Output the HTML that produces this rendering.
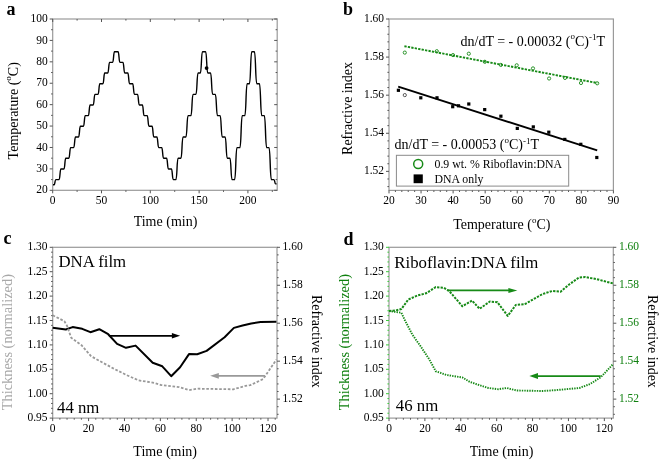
<!DOCTYPE html>
<html><head><meta charset="utf-8"><style>
html,body{margin:0;padding:0;background:#fff;}
svg{display:block;will-change:transform;}
text{font-family:"Liberation Serif", serif;}
</style></head><body>
<svg width="660" height="460" viewBox="0 0 660 460">
<rect width="660" height="460" fill="#fff"/>
<rect x="52.7" y="19" width="224.5" height="171.3" fill="none" stroke="#9a9a9a" stroke-width="1.2"/>
<line x1="49.7" y1="190.3" x2="52.7" y2="190.3" stroke="#555" stroke-width="1" />
<line x1="274.2" y1="190.3" x2="277.2" y2="190.3" stroke="#555" stroke-width="1" />
<text transform="translate(47.8,193.4) scale(0.87,1)" font-size="13.2" text-anchor="end" fill="#000">20</text>
<line x1="51.1" y1="179.59" x2="52.7" y2="179.59" stroke="#555" stroke-width="1" />
<line x1="275.6" y1="179.59" x2="277.2" y2="179.59" stroke="#555" stroke-width="1" />
<line x1="49.7" y1="168.89" x2="52.7" y2="168.89" stroke="#555" stroke-width="1" />
<line x1="274.2" y1="168.89" x2="277.2" y2="168.89" stroke="#555" stroke-width="1" />
<text transform="translate(47.8,171.99) scale(0.87,1)" font-size="13.2" text-anchor="end" fill="#000">30</text>
<line x1="51.1" y1="158.18" x2="52.7" y2="158.18" stroke="#555" stroke-width="1" />
<line x1="275.6" y1="158.18" x2="277.2" y2="158.18" stroke="#555" stroke-width="1" />
<line x1="49.7" y1="147.48" x2="52.7" y2="147.48" stroke="#555" stroke-width="1" />
<line x1="274.2" y1="147.48" x2="277.2" y2="147.48" stroke="#555" stroke-width="1" />
<text transform="translate(47.8,150.58) scale(0.87,1)" font-size="13.2" text-anchor="end" fill="#000">40</text>
<line x1="51.1" y1="136.77" x2="52.7" y2="136.77" stroke="#555" stroke-width="1" />
<line x1="275.6" y1="136.77" x2="277.2" y2="136.77" stroke="#555" stroke-width="1" />
<line x1="49.7" y1="126.06" x2="52.7" y2="126.06" stroke="#555" stroke-width="1" />
<line x1="274.2" y1="126.06" x2="277.2" y2="126.06" stroke="#555" stroke-width="1" />
<text transform="translate(47.8,129.16) scale(0.87,1)" font-size="13.2" text-anchor="end" fill="#000">50</text>
<line x1="51.1" y1="115.36" x2="52.7" y2="115.36" stroke="#555" stroke-width="1" />
<line x1="275.6" y1="115.36" x2="277.2" y2="115.36" stroke="#555" stroke-width="1" />
<line x1="49.7" y1="104.65" x2="52.7" y2="104.65" stroke="#555" stroke-width="1" />
<line x1="274.2" y1="104.65" x2="277.2" y2="104.65" stroke="#555" stroke-width="1" />
<text transform="translate(47.8,107.75) scale(0.87,1)" font-size="13.2" text-anchor="end" fill="#000">60</text>
<line x1="51.1" y1="93.94" x2="52.7" y2="93.94" stroke="#555" stroke-width="1" />
<line x1="275.6" y1="93.94" x2="277.2" y2="93.94" stroke="#555" stroke-width="1" />
<line x1="49.7" y1="83.24" x2="52.7" y2="83.24" stroke="#555" stroke-width="1" />
<line x1="274.2" y1="83.24" x2="277.2" y2="83.24" stroke="#555" stroke-width="1" />
<text transform="translate(47.8,86.34) scale(0.87,1)" font-size="13.2" text-anchor="end" fill="#000">70</text>
<line x1="51.1" y1="72.53" x2="52.7" y2="72.53" stroke="#555" stroke-width="1" />
<line x1="275.6" y1="72.53" x2="277.2" y2="72.53" stroke="#555" stroke-width="1" />
<line x1="49.7" y1="61.83" x2="52.7" y2="61.83" stroke="#555" stroke-width="1" />
<line x1="274.2" y1="61.83" x2="277.2" y2="61.83" stroke="#555" stroke-width="1" />
<text transform="translate(47.8,64.93) scale(0.87,1)" font-size="13.2" text-anchor="end" fill="#000">80</text>
<line x1="51.1" y1="51.12" x2="52.7" y2="51.12" stroke="#555" stroke-width="1" />
<line x1="275.6" y1="51.12" x2="277.2" y2="51.12" stroke="#555" stroke-width="1" />
<line x1="49.7" y1="40.41" x2="52.7" y2="40.41" stroke="#555" stroke-width="1" />
<line x1="274.2" y1="40.41" x2="277.2" y2="40.41" stroke="#555" stroke-width="1" />
<text transform="translate(47.8,43.51) scale(0.87,1)" font-size="13.2" text-anchor="end" fill="#000">90</text>
<line x1="51.1" y1="29.71" x2="52.7" y2="29.71" stroke="#555" stroke-width="1" />
<line x1="275.6" y1="29.71" x2="277.2" y2="29.71" stroke="#555" stroke-width="1" />
<line x1="49.7" y1="19" x2="52.7" y2="19" stroke="#555" stroke-width="1" />
<line x1="274.2" y1="19" x2="277.2" y2="19" stroke="#555" stroke-width="1" />
<text transform="translate(47.8,22.1) scale(0.87,1)" font-size="13.2" text-anchor="end" fill="#000">100</text>
<line x1="52.7" y1="190.3" x2="52.7" y2="193.3" stroke="#555" stroke-width="1" />
<line x1="52.7" y1="19" x2="52.7" y2="22" stroke="#555" stroke-width="1" />
<text transform="translate(52.7,204.4) scale(0.87,1)" font-size="13.2" text-anchor="middle" fill="#000">0</text>
<line x1="77.1" y1="190.3" x2="77.1" y2="191.9" stroke="#555" stroke-width="1" />
<line x1="77.1" y1="19" x2="77.1" y2="20.6" stroke="#555" stroke-width="1" />
<line x1="101.5" y1="190.3" x2="101.5" y2="193.3" stroke="#555" stroke-width="1" />
<line x1="101.5" y1="19" x2="101.5" y2="22" stroke="#555" stroke-width="1" />
<text transform="translate(101.5,204.4) scale(0.87,1)" font-size="13.2" text-anchor="middle" fill="#000">50</text>
<line x1="125.91" y1="190.3" x2="125.91" y2="191.9" stroke="#555" stroke-width="1" />
<line x1="125.91" y1="19" x2="125.91" y2="20.6" stroke="#555" stroke-width="1" />
<line x1="150.31" y1="190.3" x2="150.31" y2="193.3" stroke="#555" stroke-width="1" />
<line x1="150.31" y1="19" x2="150.31" y2="22" stroke="#555" stroke-width="1" />
<text transform="translate(150.31,204.4) scale(0.87,1)" font-size="13.2" text-anchor="middle" fill="#000">100</text>
<line x1="174.71" y1="190.3" x2="174.71" y2="191.9" stroke="#555" stroke-width="1" />
<line x1="174.71" y1="19" x2="174.71" y2="20.6" stroke="#555" stroke-width="1" />
<line x1="199.11" y1="190.3" x2="199.11" y2="193.3" stroke="#555" stroke-width="1" />
<line x1="199.11" y1="19" x2="199.11" y2="22" stroke="#555" stroke-width="1" />
<text transform="translate(199.11,204.4) scale(0.87,1)" font-size="13.2" text-anchor="middle" fill="#000">150</text>
<line x1="223.52" y1="190.3" x2="223.52" y2="191.9" stroke="#555" stroke-width="1" />
<line x1="223.52" y1="19" x2="223.52" y2="20.6" stroke="#555" stroke-width="1" />
<line x1="247.92" y1="190.3" x2="247.92" y2="193.3" stroke="#555" stroke-width="1" />
<line x1="247.92" y1="19" x2="247.92" y2="22" stroke="#555" stroke-width="1" />
<text transform="translate(247.92,204.4) scale(0.87,1)" font-size="13.2" text-anchor="middle" fill="#000">200</text>
<line x1="272.32" y1="190.3" x2="272.32" y2="191.9" stroke="#555" stroke-width="1" />
<line x1="272.32" y1="19" x2="272.32" y2="20.6" stroke="#555" stroke-width="1" />
<text x="165.5" y="226" font-size="14" text-anchor="middle" fill="#000" >Time (min)</text>
<text transform="translate(17.6,110.8) rotate(-90)" font-size="14" text-anchor="middle">Temperature (<tspan font-size="9" dy="-6.5">o</tspan><tspan dy="6.5">C)</tspan></text>
<text x="6.5" y="14.5" font-size="18" font-weight="bold">a</text>
<path d="M53,184.73 L54.2,184.73 C55,184.73 54.8,179.59 56,179.59 L59.08,179.59 C60.09,179.59 59.91,168.94 60.92,168.94 L63.95,168.94 C64.96,168.94 64.78,158.28 65.8,158.28 L68.81,158.28 C69.83,158.28 69.65,147.63 70.66,147.63 L73.69,147.63 C74.7,147.63 74.52,136.97 75.53,136.97 L78.56,136.97 C79.57,136.97 79.39,126.31 80.41,126.31 L83.42,126.31 C84.44,126.31 84.26,115.66 85.27,115.66 L88.3,115.66 C89.31,115.66 89.13,105 90.14,105 L93.17,105 C94.18,105 94,94.34 95.02,94.34 L98.04,94.34 C99.05,94.34 98.87,83.69 99.89,83.69 L102.91,83.69 C103.92,83.69 103.74,73.03 104.75,73.03 L107.78,73.03 C108.79,73.03 108.61,62.38 109.62,62.38 L112.64,62.38 C113.66,62.38 113.48,51.72 114.49,51.72 L118.08,51.72 C119.09,51.72 118.91,62.38 119.92,62.38 L122.92,62.38 C123.94,62.38 123.76,73.03 124.77,73.03 L127.77,73.03 C128.79,73.03 128.61,83.69 129.62,83.69 L132.62,83.69 C133.64,83.69 133.46,94.34 134.48,94.34 L137.47,94.34 C138.49,94.34 138.31,105 139.33,105 L142.32,105 C143.34,105 143.16,115.66 144.18,115.66 L147.17,115.66 C148.19,115.66 148.01,126.31 149.03,126.31 L152.02,126.31 C153.04,126.31 152.86,136.97 153.88,136.97 L156.88,136.97 C157.89,136.97 157.71,147.63 158.73,147.63 L161.72,147.63 C162.74,147.63 162.56,158.28 163.58,158.28 L166.57,158.28 C167.59,158.28 167.41,168.94 168.43,168.94 L171.42,168.94 C172.44,168.94 172.26,179.59 173.28,179.59 L175.95,179.59 C177.1,179.59 176.9,158.28 178.05,158.28 L180.95,158.28 C182.1,158.28 181.9,136.97 183.05,136.97 L185.95,136.97 C187.1,136.97 186.9,115.66 188.05,115.66 L190.95,115.66 C192.1,115.66 191.9,94.34 193.05,94.34 L195.95,94.34 C197.1,94.34 196.9,73.03 198.05,73.03 L200.35,73.03 C201.5,73.03 201.3,51.72 202.45,51.72 L205.65,51.72 C206.8,51.72 206.59,73.03 207.75,73.03 L210.55,73.03 C211.7,73.03 211.5,94.34 212.65,94.34 L215.35,94.34 C216.5,94.34 216.3,115.66 217.45,115.66 L220.15,115.66 C221.3,115.66 221.09,136.97 222.25,136.97 L225.15,136.97 C226.3,136.97 226.09,158.28 227.25,158.28 L229.95,158.28 C231.1,158.28 230.9,179.59 232.05,179.59 L234.62,179.59 C235.92,179.59 235.68,147.63 236.98,147.63 L239.92,147.63 C241.22,147.63 240.98,115.66 242.28,115.66 L244.82,115.66 C246.12,115.66 245.88,83.69 247.18,83.69 L249.42,83.69 C250.72,83.69 250.48,51.72 251.78,51.72 L254.42,51.72 C255.72,51.72 255.48,83.69 256.77,83.69 L259.43,83.69 C260.72,83.69 260.48,115.66 261.78,115.66 L264.32,115.66 C265.62,115.66 265.38,147.63 266.68,147.63 L269.02,147.63 C270.32,147.63 270.08,179.59 271.38,179.59 L273.9,179.59 C274.9,179.59 274.6,183.88 275.6,183.88 L276.6,183.88" fill="none" stroke="#000" stroke-width="1.4" stroke-linejoin="round"/>
<circle cx="206.6" cy="68.1" r="1.9" fill="#000"/>
<rect x="389" y="19" width="224.4" height="171.4" fill="none" stroke="#9a9a9a" stroke-width="1.2"/>
<line x1="386" y1="19" x2="389" y2="19" stroke="#555" stroke-width="1" />
<text transform="translate(384,22.1) scale(0.87,1)" font-size="13.2" text-anchor="end" fill="#000">1.60</text>
<line x1="387.4" y1="26.62" x2="389" y2="26.62" stroke="#555" stroke-width="1" />
<line x1="387.4" y1="34.24" x2="389" y2="34.24" stroke="#555" stroke-width="1" />
<line x1="387.4" y1="41.85" x2="389" y2="41.85" stroke="#555" stroke-width="1" />
<line x1="387.4" y1="49.47" x2="389" y2="49.47" stroke="#555" stroke-width="1" />
<line x1="386" y1="57.09" x2="389" y2="57.09" stroke="#555" stroke-width="1" />
<text transform="translate(384,60.19) scale(0.87,1)" font-size="13.2" text-anchor="end" fill="#000">1.58</text>
<line x1="387.4" y1="64.71" x2="389" y2="64.71" stroke="#555" stroke-width="1" />
<line x1="387.4" y1="72.32" x2="389" y2="72.32" stroke="#555" stroke-width="1" />
<line x1="387.4" y1="79.94" x2="389" y2="79.94" stroke="#555" stroke-width="1" />
<line x1="387.4" y1="87.56" x2="389" y2="87.56" stroke="#555" stroke-width="1" />
<line x1="386" y1="95.18" x2="389" y2="95.18" stroke="#555" stroke-width="1" />
<text transform="translate(384,98.28) scale(0.87,1)" font-size="13.2" text-anchor="end" fill="#000">1.56</text>
<line x1="387.4" y1="102.8" x2="389" y2="102.8" stroke="#555" stroke-width="1" />
<line x1="387.4" y1="110.41" x2="389" y2="110.41" stroke="#555" stroke-width="1" />
<line x1="387.4" y1="118.03" x2="389" y2="118.03" stroke="#555" stroke-width="1" />
<line x1="387.4" y1="125.65" x2="389" y2="125.65" stroke="#555" stroke-width="1" />
<line x1="386" y1="133.27" x2="389" y2="133.27" stroke="#555" stroke-width="1" />
<text transform="translate(384,136.37) scale(0.87,1)" font-size="13.2" text-anchor="end" fill="#000">1.54</text>
<line x1="387.4" y1="140.88" x2="389" y2="140.88" stroke="#555" stroke-width="1" />
<line x1="387.4" y1="148.5" x2="389" y2="148.5" stroke="#555" stroke-width="1" />
<line x1="387.4" y1="156.12" x2="389" y2="156.12" stroke="#555" stroke-width="1" />
<line x1="387.4" y1="163.74" x2="389" y2="163.74" stroke="#555" stroke-width="1" />
<line x1="386" y1="171.36" x2="389" y2="171.36" stroke="#555" stroke-width="1" />
<text transform="translate(384,174.46) scale(0.87,1)" font-size="13.2" text-anchor="end" fill="#000">1.52</text>
<line x1="387.4" y1="178.97" x2="389" y2="178.97" stroke="#555" stroke-width="1" />
<line x1="387.4" y1="186.59" x2="389" y2="186.59" stroke="#555" stroke-width="1" />
<line x1="389" y1="190.4" x2="389" y2="193.4" stroke="#555" stroke-width="1" />
<text transform="translate(389,204.4) scale(0.87,1)" font-size="13.2" text-anchor="middle" fill="#000">20</text>
<line x1="395.41" y1="190.4" x2="395.41" y2="192" stroke="#555" stroke-width="1" />
<line x1="401.82" y1="190.4" x2="401.82" y2="192" stroke="#555" stroke-width="1" />
<line x1="408.23" y1="190.4" x2="408.23" y2="192" stroke="#555" stroke-width="1" />
<line x1="414.65" y1="190.4" x2="414.65" y2="192" stroke="#555" stroke-width="1" />
<line x1="421.06" y1="190.4" x2="421.06" y2="193.4" stroke="#555" stroke-width="1" />
<text transform="translate(421.06,204.4) scale(0.87,1)" font-size="13.2" text-anchor="middle" fill="#000">30</text>
<line x1="427.47" y1="190.4" x2="427.47" y2="192" stroke="#555" stroke-width="1" />
<line x1="433.88" y1="190.4" x2="433.88" y2="192" stroke="#555" stroke-width="1" />
<line x1="440.29" y1="190.4" x2="440.29" y2="192" stroke="#555" stroke-width="1" />
<line x1="446.7" y1="190.4" x2="446.7" y2="192" stroke="#555" stroke-width="1" />
<line x1="453.11" y1="190.4" x2="453.11" y2="193.4" stroke="#555" stroke-width="1" />
<text transform="translate(453.11,204.4) scale(0.87,1)" font-size="13.2" text-anchor="middle" fill="#000">40</text>
<line x1="459.53" y1="190.4" x2="459.53" y2="192" stroke="#555" stroke-width="1" />
<line x1="465.94" y1="190.4" x2="465.94" y2="192" stroke="#555" stroke-width="1" />
<line x1="472.35" y1="190.4" x2="472.35" y2="192" stroke="#555" stroke-width="1" />
<line x1="478.76" y1="190.4" x2="478.76" y2="192" stroke="#555" stroke-width="1" />
<line x1="485.17" y1="190.4" x2="485.17" y2="193.4" stroke="#555" stroke-width="1" />
<text transform="translate(485.17,204.4) scale(0.87,1)" font-size="13.2" text-anchor="middle" fill="#000">50</text>
<line x1="491.58" y1="190.4" x2="491.58" y2="192" stroke="#555" stroke-width="1" />
<line x1="497.99" y1="190.4" x2="497.99" y2="192" stroke="#555" stroke-width="1" />
<line x1="504.41" y1="190.4" x2="504.41" y2="192" stroke="#555" stroke-width="1" />
<line x1="510.82" y1="190.4" x2="510.82" y2="192" stroke="#555" stroke-width="1" />
<line x1="517.23" y1="190.4" x2="517.23" y2="193.4" stroke="#555" stroke-width="1" />
<text transform="translate(517.23,204.4) scale(0.87,1)" font-size="13.2" text-anchor="middle" fill="#000">60</text>
<line x1="523.64" y1="190.4" x2="523.64" y2="192" stroke="#555" stroke-width="1" />
<line x1="530.05" y1="190.4" x2="530.05" y2="192" stroke="#555" stroke-width="1" />
<line x1="536.46" y1="190.4" x2="536.46" y2="192" stroke="#555" stroke-width="1" />
<line x1="542.87" y1="190.4" x2="542.87" y2="192" stroke="#555" stroke-width="1" />
<line x1="549.29" y1="190.4" x2="549.29" y2="193.4" stroke="#555" stroke-width="1" />
<text transform="translate(549.29,204.4) scale(0.87,1)" font-size="13.2" text-anchor="middle" fill="#000">70</text>
<line x1="555.7" y1="190.4" x2="555.7" y2="192" stroke="#555" stroke-width="1" />
<line x1="562.11" y1="190.4" x2="562.11" y2="192" stroke="#555" stroke-width="1" />
<line x1="568.52" y1="190.4" x2="568.52" y2="192" stroke="#555" stroke-width="1" />
<line x1="574.93" y1="190.4" x2="574.93" y2="192" stroke="#555" stroke-width="1" />
<line x1="581.34" y1="190.4" x2="581.34" y2="193.4" stroke="#555" stroke-width="1" />
<text transform="translate(581.34,204.4) scale(0.87,1)" font-size="13.2" text-anchor="middle" fill="#000">80</text>
<line x1="587.75" y1="190.4" x2="587.75" y2="192" stroke="#555" stroke-width="1" />
<line x1="594.17" y1="190.4" x2="594.17" y2="192" stroke="#555" stroke-width="1" />
<line x1="600.58" y1="190.4" x2="600.58" y2="192" stroke="#555" stroke-width="1" />
<line x1="606.99" y1="190.4" x2="606.99" y2="192" stroke="#555" stroke-width="1" />
<line x1="613.4" y1="190.4" x2="613.4" y2="193.4" stroke="#555" stroke-width="1" />
<text transform="translate(613.4,204.4) scale(0.87,1)" font-size="13.2" text-anchor="middle" fill="#000">90</text>
<text x="501.8" y="229.3" font-size="14" text-anchor="middle">Temperature (<tspan font-size="9" dy="-6.5">o</tspan><tspan dy="6.5">C)</tspan></text>
<text transform="translate(352,108.5) rotate(-90)" font-size="14" text-anchor="middle">Refractive index</text>
<text x="343" y="14.5" font-size="18" font-weight="bold">b</text>
<line x1="404.4" y1="46.2" x2="597.2" y2="83.0" stroke="#178a17" stroke-width="1.9" stroke-dasharray="2.3,1.2"/>
<line x1="398.2" y1="86.6" x2="597.2" y2="150.3" stroke="#000" stroke-width="1.9" />
<circle cx="404.8" cy="52.6" r="1.6" fill="none" stroke="#178a17" stroke-width="0.9"/>
<circle cx="436.8" cy="51.2" r="1.6" fill="none" stroke="#178a17" stroke-width="0.9"/>
<circle cx="453" cy="55.1" r="1.6" fill="none" stroke="#178a17" stroke-width="0.9"/>
<circle cx="468.8" cy="53.7" r="1.6" fill="none" stroke="#178a17" stroke-width="0.9"/>
<circle cx="484.8" cy="61.8" r="1.6" fill="none" stroke="#178a17" stroke-width="0.9"/>
<circle cx="500.8" cy="64.9" r="1.6" fill="none" stroke="#178a17" stroke-width="0.9"/>
<circle cx="516.7" cy="65.3" r="1.6" fill="none" stroke="#178a17" stroke-width="0.9"/>
<circle cx="533" cy="68.4" r="1.6" fill="none" stroke="#178a17" stroke-width="0.9"/>
<circle cx="549.1" cy="78.5" r="1.6" fill="none" stroke="#178a17" stroke-width="0.9"/>
<circle cx="565" cy="77.9" r="1.6" fill="none" stroke="#178a17" stroke-width="0.9"/>
<circle cx="581" cy="83" r="1.6" fill="none" stroke="#178a17" stroke-width="0.9"/>
<circle cx="597.2" cy="83.3" r="1.6" fill="none" stroke="#178a17" stroke-width="0.9"/>
<circle cx="404.8" cy="95.1" r="1.6" fill="none" stroke="#333" stroke-width="0.8"/>
<rect x="396.8" y="88.7" width="3.2" height="3.2" fill="#000"/>
<rect x="419.2" y="96.2" width="3.2" height="3.2" fill="#000"/>
<rect x="435.4" y="96.2" width="3.2" height="3.2" fill="#000"/>
<rect x="451.1" y="105.1" width="3.2" height="3.2" fill="#000"/>
<rect x="456.9" y="104.2" width="3.2" height="3.2" fill="#000"/>
<rect x="467.2" y="102.4" width="3.2" height="3.2" fill="#000"/>
<rect x="483.1" y="108" width="3.2" height="3.2" fill="#000"/>
<rect x="499.3" y="114.6" width="3.2" height="3.2" fill="#000"/>
<rect x="515.7" y="126.8" width="3.2" height="3.2" fill="#000"/>
<rect x="531.7" y="125.3" width="3.2" height="3.2" fill="#000"/>
<rect x="547.2" y="130.6" width="3.2" height="3.2" fill="#000"/>
<rect x="563.2" y="137.8" width="3.2" height="3.2" fill="#000"/>
<rect x="579.2" y="142.7" width="3.2" height="3.2" fill="#000"/>
<rect x="595.2" y="155.9" width="3.2" height="3.2" fill="#000"/>
<text x="460.5" y="45.6" font-size="14">dn/dT = - 0.00032 (<tspan font-size="9" dy="-6.5">o</tspan><tspan dy="6.5">C)</tspan><tspan font-size="9" dy="-5.5">-1</tspan><tspan dy="5.5">T</tspan></text>
<text x="394.5" y="149.4" font-size="14">dn/dT = - 0.00053 (<tspan font-size="9" dy="-6.5">o</tspan><tspan dy="6.5">C)</tspan><tspan font-size="9" dy="-5.5">-1</tspan><tspan dy="5.5">T</tspan></text>
<rect x="396.4" y="155.3" width="172.3" height="30.8" fill="#fff" stroke="#8a8a8a" stroke-width="1"/>
<circle cx="418.2" cy="164" r="4.5" fill="none" stroke="#178a17" stroke-width="1.5"/>
<rect x="413.6" y="174.4" width="9.2" height="8.8" fill="#000"/>
<text x="434.5" y="168" font-size="11.8" text-anchor="start" fill="#000" >0.9 wt. % Riboflavin:DNA</text>
<text x="434.5" y="182.7" font-size="11.8" text-anchor="start" fill="#000" >DNA only</text>
<rect x="52.7" y="247.3" width="224.3" height="170.8" fill="none" stroke="#9a9a9a" stroke-width="1.2"/>
<line x1="49.7" y1="418.1" x2="52.7" y2="418.1" stroke="#555" stroke-width="1" />
<text transform="translate(47.5,421.2) scale(0.87,1)" font-size="13.2" text-anchor="end" fill="#000">0.95</text>
<line x1="51.1" y1="413.22" x2="52.7" y2="413.22" stroke="#555" stroke-width="1" />
<line x1="51.1" y1="408.34" x2="52.7" y2="408.34" stroke="#555" stroke-width="1" />
<line x1="51.1" y1="403.46" x2="52.7" y2="403.46" stroke="#555" stroke-width="1" />
<line x1="51.1" y1="398.58" x2="52.7" y2="398.58" stroke="#555" stroke-width="1" />
<line x1="49.7" y1="393.7" x2="52.7" y2="393.7" stroke="#555" stroke-width="1" />
<text transform="translate(47.5,396.8) scale(0.87,1)" font-size="13.2" text-anchor="end" fill="#000">1.00</text>
<line x1="51.1" y1="388.82" x2="52.7" y2="388.82" stroke="#555" stroke-width="1" />
<line x1="51.1" y1="383.94" x2="52.7" y2="383.94" stroke="#555" stroke-width="1" />
<line x1="51.1" y1="379.06" x2="52.7" y2="379.06" stroke="#555" stroke-width="1" />
<line x1="51.1" y1="374.18" x2="52.7" y2="374.18" stroke="#555" stroke-width="1" />
<line x1="49.7" y1="369.3" x2="52.7" y2="369.3" stroke="#555" stroke-width="1" />
<text transform="translate(47.5,372.4) scale(0.87,1)" font-size="13.2" text-anchor="end" fill="#000">1.05</text>
<line x1="51.1" y1="364.42" x2="52.7" y2="364.42" stroke="#555" stroke-width="1" />
<line x1="51.1" y1="359.54" x2="52.7" y2="359.54" stroke="#555" stroke-width="1" />
<line x1="51.1" y1="354.66" x2="52.7" y2="354.66" stroke="#555" stroke-width="1" />
<line x1="51.1" y1="349.78" x2="52.7" y2="349.78" stroke="#555" stroke-width="1" />
<line x1="49.7" y1="344.9" x2="52.7" y2="344.9" stroke="#555" stroke-width="1" />
<text transform="translate(47.5,348) scale(0.87,1)" font-size="13.2" text-anchor="end" fill="#000">1.10</text>
<line x1="51.1" y1="340.02" x2="52.7" y2="340.02" stroke="#555" stroke-width="1" />
<line x1="51.1" y1="335.14" x2="52.7" y2="335.14" stroke="#555" stroke-width="1" />
<line x1="51.1" y1="330.26" x2="52.7" y2="330.26" stroke="#555" stroke-width="1" />
<line x1="51.1" y1="325.38" x2="52.7" y2="325.38" stroke="#555" stroke-width="1" />
<line x1="49.7" y1="320.5" x2="52.7" y2="320.5" stroke="#555" stroke-width="1" />
<text transform="translate(47.5,323.6) scale(0.87,1)" font-size="13.2" text-anchor="end" fill="#000">1.15</text>
<line x1="51.1" y1="315.62" x2="52.7" y2="315.62" stroke="#555" stroke-width="1" />
<line x1="51.1" y1="310.74" x2="52.7" y2="310.74" stroke="#555" stroke-width="1" />
<line x1="51.1" y1="305.86" x2="52.7" y2="305.86" stroke="#555" stroke-width="1" />
<line x1="51.1" y1="300.98" x2="52.7" y2="300.98" stroke="#555" stroke-width="1" />
<line x1="49.7" y1="296.1" x2="52.7" y2="296.1" stroke="#555" stroke-width="1" />
<text transform="translate(47.5,299.2) scale(0.87,1)" font-size="13.2" text-anchor="end" fill="#000">1.20</text>
<line x1="51.1" y1="291.22" x2="52.7" y2="291.22" stroke="#555" stroke-width="1" />
<line x1="51.1" y1="286.34" x2="52.7" y2="286.34" stroke="#555" stroke-width="1" />
<line x1="51.1" y1="281.46" x2="52.7" y2="281.46" stroke="#555" stroke-width="1" />
<line x1="51.1" y1="276.58" x2="52.7" y2="276.58" stroke="#555" stroke-width="1" />
<line x1="49.7" y1="271.7" x2="52.7" y2="271.7" stroke="#555" stroke-width="1" />
<text transform="translate(47.5,274.8) scale(0.87,1)" font-size="13.2" text-anchor="end" fill="#000">1.25</text>
<line x1="51.1" y1="266.82" x2="52.7" y2="266.82" stroke="#555" stroke-width="1" />
<line x1="51.1" y1="261.94" x2="52.7" y2="261.94" stroke="#555" stroke-width="1" />
<line x1="51.1" y1="257.06" x2="52.7" y2="257.06" stroke="#555" stroke-width="1" />
<line x1="51.1" y1="252.18" x2="52.7" y2="252.18" stroke="#555" stroke-width="1" />
<line x1="49.7" y1="247.3" x2="52.7" y2="247.3" stroke="#555" stroke-width="1" />
<text transform="translate(47.5,250.4) scale(0.87,1)" font-size="13.2" text-anchor="end" fill="#000">1.30</text>
<line x1="277" y1="247.3" x2="280" y2="247.3" stroke="#555" stroke-width="1" />
<text transform="translate(282.6,250.4) scale(0.87,1)" font-size="13.2" text-anchor="start" fill="#000">1.60</text>
<line x1="277" y1="254.89" x2="278.6" y2="254.89" stroke="#555" stroke-width="1" />
<line x1="277" y1="262.48" x2="278.6" y2="262.48" stroke="#555" stroke-width="1" />
<line x1="277" y1="270.07" x2="278.6" y2="270.07" stroke="#555" stroke-width="1" />
<line x1="277" y1="277.66" x2="278.6" y2="277.66" stroke="#555" stroke-width="1" />
<line x1="277" y1="285.26" x2="280" y2="285.26" stroke="#555" stroke-width="1" />
<text transform="translate(282.6,288.36) scale(0.87,1)" font-size="13.2" text-anchor="start" fill="#000">1.58</text>
<line x1="277" y1="292.85" x2="278.6" y2="292.85" stroke="#555" stroke-width="1" />
<line x1="277" y1="300.44" x2="278.6" y2="300.44" stroke="#555" stroke-width="1" />
<line x1="277" y1="308.03" x2="278.6" y2="308.03" stroke="#555" stroke-width="1" />
<line x1="277" y1="315.62" x2="278.6" y2="315.62" stroke="#555" stroke-width="1" />
<line x1="277" y1="323.21" x2="280" y2="323.21" stroke="#555" stroke-width="1" />
<text transform="translate(282.6,326.31) scale(0.87,1)" font-size="13.2" text-anchor="start" fill="#000">1.56</text>
<line x1="277" y1="330.8" x2="278.6" y2="330.8" stroke="#555" stroke-width="1" />
<line x1="277" y1="338.39" x2="278.6" y2="338.39" stroke="#555" stroke-width="1" />
<line x1="277" y1="345.98" x2="278.6" y2="345.98" stroke="#555" stroke-width="1" />
<line x1="277" y1="353.58" x2="278.6" y2="353.58" stroke="#555" stroke-width="1" />
<line x1="277" y1="361.17" x2="280" y2="361.17" stroke="#555" stroke-width="1" />
<text transform="translate(282.6,364.27) scale(0.87,1)" font-size="13.2" text-anchor="start" fill="#000">1.54</text>
<line x1="277" y1="368.76" x2="278.6" y2="368.76" stroke="#555" stroke-width="1" />
<line x1="277" y1="376.35" x2="278.6" y2="376.35" stroke="#555" stroke-width="1" />
<line x1="277" y1="383.94" x2="278.6" y2="383.94" stroke="#555" stroke-width="1" />
<line x1="277" y1="391.53" x2="278.6" y2="391.53" stroke="#555" stroke-width="1" />
<line x1="277" y1="399.12" x2="280" y2="399.12" stroke="#555" stroke-width="1" />
<text transform="translate(282.6,402.22) scale(0.87,1)" font-size="13.2" text-anchor="start" fill="#000">1.52</text>
<line x1="277" y1="406.71" x2="278.6" y2="406.71" stroke="#555" stroke-width="1" />
<line x1="277" y1="414.3" x2="278.6" y2="414.3" stroke="#555" stroke-width="1" />
<line x1="52.7" y1="418.1" x2="52.7" y2="421.1" stroke="#555" stroke-width="1" />
<text transform="translate(52.7,432.4) scale(0.87,1)" font-size="13.2" text-anchor="middle" fill="#000">0</text>
<line x1="59.88" y1="418.1" x2="59.88" y2="419.7" stroke="#555" stroke-width="1" />
<line x1="67.06" y1="418.1" x2="67.06" y2="419.7" stroke="#555" stroke-width="1" />
<line x1="74.23" y1="418.1" x2="74.23" y2="419.7" stroke="#555" stroke-width="1" />
<line x1="81.41" y1="418.1" x2="81.41" y2="419.7" stroke="#555" stroke-width="1" />
<line x1="88.59" y1="418.1" x2="88.59" y2="421.1" stroke="#555" stroke-width="1" />
<text transform="translate(88.59,432.4) scale(0.87,1)" font-size="13.2" text-anchor="middle" fill="#000">20</text>
<line x1="95.77" y1="418.1" x2="95.77" y2="419.7" stroke="#555" stroke-width="1" />
<line x1="102.94" y1="418.1" x2="102.94" y2="419.7" stroke="#555" stroke-width="1" />
<line x1="110.12" y1="418.1" x2="110.12" y2="419.7" stroke="#555" stroke-width="1" />
<line x1="117.3" y1="418.1" x2="117.3" y2="419.7" stroke="#555" stroke-width="1" />
<line x1="124.48" y1="418.1" x2="124.48" y2="421.1" stroke="#555" stroke-width="1" />
<text transform="translate(124.48,432.4) scale(0.87,1)" font-size="13.2" text-anchor="middle" fill="#000">40</text>
<line x1="131.65" y1="418.1" x2="131.65" y2="419.7" stroke="#555" stroke-width="1" />
<line x1="138.83" y1="418.1" x2="138.83" y2="419.7" stroke="#555" stroke-width="1" />
<line x1="146.01" y1="418.1" x2="146.01" y2="419.7" stroke="#555" stroke-width="1" />
<line x1="153.19" y1="418.1" x2="153.19" y2="419.7" stroke="#555" stroke-width="1" />
<line x1="160.36" y1="418.1" x2="160.36" y2="421.1" stroke="#555" stroke-width="1" />
<text transform="translate(160.36,432.4) scale(0.87,1)" font-size="13.2" text-anchor="middle" fill="#000">60</text>
<line x1="167.54" y1="418.1" x2="167.54" y2="419.7" stroke="#555" stroke-width="1" />
<line x1="174.72" y1="418.1" x2="174.72" y2="419.7" stroke="#555" stroke-width="1" />
<line x1="181.9" y1="418.1" x2="181.9" y2="419.7" stroke="#555" stroke-width="1" />
<line x1="189.07" y1="418.1" x2="189.07" y2="419.7" stroke="#555" stroke-width="1" />
<line x1="196.25" y1="418.1" x2="196.25" y2="421.1" stroke="#555" stroke-width="1" />
<text transform="translate(196.25,432.4) scale(0.87,1)" font-size="13.2" text-anchor="middle" fill="#000">80</text>
<line x1="203.43" y1="418.1" x2="203.43" y2="419.7" stroke="#555" stroke-width="1" />
<line x1="210.61" y1="418.1" x2="210.61" y2="419.7" stroke="#555" stroke-width="1" />
<line x1="217.78" y1="418.1" x2="217.78" y2="419.7" stroke="#555" stroke-width="1" />
<line x1="224.96" y1="418.1" x2="224.96" y2="419.7" stroke="#555" stroke-width="1" />
<line x1="232.14" y1="418.1" x2="232.14" y2="421.1" stroke="#555" stroke-width="1" />
<text transform="translate(232.14,432.4) scale(0.87,1)" font-size="13.2" text-anchor="middle" fill="#000">100</text>
<line x1="239.32" y1="418.1" x2="239.32" y2="419.7" stroke="#555" stroke-width="1" />
<line x1="246.5" y1="418.1" x2="246.5" y2="419.7" stroke="#555" stroke-width="1" />
<line x1="253.67" y1="418.1" x2="253.67" y2="419.7" stroke="#555" stroke-width="1" />
<line x1="260.85" y1="418.1" x2="260.85" y2="419.7" stroke="#555" stroke-width="1" />
<line x1="268.03" y1="418.1" x2="268.03" y2="421.1" stroke="#555" stroke-width="1" />
<text transform="translate(268.03,432.4) scale(0.87,1)" font-size="13.2" text-anchor="middle" fill="#000">120</text>
<line x1="275.21" y1="418.1" x2="275.21" y2="419.7" stroke="#555" stroke-width="1" />
<text x="165.2" y="455.5" font-size="14" text-anchor="middle" fill="#000" >Time (min)</text>
<text transform="translate(12.4,342.2) rotate(-90)" font-size="14.4" text-anchor="middle" fill="#a8a8a8">Thickness (normalized)</text>
<text transform="translate(311.8,341.4) rotate(90)" font-size="14" text-anchor="middle">Refractive index</text>
<rect x="389" y="247.3" width="224.3" height="170.8" fill="none" stroke="#9a9a9a" stroke-width="1.2"/>
<line x1="386" y1="418.1" x2="389" y2="418.1" stroke="#3ccc3c" stroke-width="1" />
<text transform="translate(383.8,421.2) scale(0.87,1)" font-size="13.2" text-anchor="end" fill="#000">0.95</text>
<line x1="387.4" y1="413.22" x2="389" y2="413.22" stroke="#3ccc3c" stroke-width="1" />
<line x1="387.4" y1="408.34" x2="389" y2="408.34" stroke="#3ccc3c" stroke-width="1" />
<line x1="387.4" y1="403.46" x2="389" y2="403.46" stroke="#3ccc3c" stroke-width="1" />
<line x1="387.4" y1="398.58" x2="389" y2="398.58" stroke="#3ccc3c" stroke-width="1" />
<line x1="386" y1="393.7" x2="389" y2="393.7" stroke="#3ccc3c" stroke-width="1" />
<text transform="translate(383.8,396.8) scale(0.87,1)" font-size="13.2" text-anchor="end" fill="#000">1.00</text>
<line x1="387.4" y1="388.82" x2="389" y2="388.82" stroke="#3ccc3c" stroke-width="1" />
<line x1="387.4" y1="383.94" x2="389" y2="383.94" stroke="#3ccc3c" stroke-width="1" />
<line x1="387.4" y1="379.06" x2="389" y2="379.06" stroke="#3ccc3c" stroke-width="1" />
<line x1="387.4" y1="374.18" x2="389" y2="374.18" stroke="#3ccc3c" stroke-width="1" />
<line x1="386" y1="369.3" x2="389" y2="369.3" stroke="#3ccc3c" stroke-width="1" />
<text transform="translate(383.8,372.4) scale(0.87,1)" font-size="13.2" text-anchor="end" fill="#000">1.05</text>
<line x1="387.4" y1="364.42" x2="389" y2="364.42" stroke="#3ccc3c" stroke-width="1" />
<line x1="387.4" y1="359.54" x2="389" y2="359.54" stroke="#3ccc3c" stroke-width="1" />
<line x1="387.4" y1="354.66" x2="389" y2="354.66" stroke="#3ccc3c" stroke-width="1" />
<line x1="387.4" y1="349.78" x2="389" y2="349.78" stroke="#3ccc3c" stroke-width="1" />
<line x1="386" y1="344.9" x2="389" y2="344.9" stroke="#3ccc3c" stroke-width="1" />
<text transform="translate(383.8,348) scale(0.87,1)" font-size="13.2" text-anchor="end" fill="#000">1.10</text>
<line x1="387.4" y1="340.02" x2="389" y2="340.02" stroke="#3ccc3c" stroke-width="1" />
<line x1="387.4" y1="335.14" x2="389" y2="335.14" stroke="#3ccc3c" stroke-width="1" />
<line x1="387.4" y1="330.26" x2="389" y2="330.26" stroke="#3ccc3c" stroke-width="1" />
<line x1="387.4" y1="325.38" x2="389" y2="325.38" stroke="#3ccc3c" stroke-width="1" />
<line x1="386" y1="320.5" x2="389" y2="320.5" stroke="#3ccc3c" stroke-width="1" />
<text transform="translate(383.8,323.6) scale(0.87,1)" font-size="13.2" text-anchor="end" fill="#000">1.15</text>
<line x1="387.4" y1="315.62" x2="389" y2="315.62" stroke="#3ccc3c" stroke-width="1" />
<line x1="387.4" y1="310.74" x2="389" y2="310.74" stroke="#3ccc3c" stroke-width="1" />
<line x1="387.4" y1="305.86" x2="389" y2="305.86" stroke="#3ccc3c" stroke-width="1" />
<line x1="387.4" y1="300.98" x2="389" y2="300.98" stroke="#3ccc3c" stroke-width="1" />
<line x1="386" y1="296.1" x2="389" y2="296.1" stroke="#3ccc3c" stroke-width="1" />
<text transform="translate(383.8,299.2) scale(0.87,1)" font-size="13.2" text-anchor="end" fill="#000">1.20</text>
<line x1="387.4" y1="291.22" x2="389" y2="291.22" stroke="#3ccc3c" stroke-width="1" />
<line x1="387.4" y1="286.34" x2="389" y2="286.34" stroke="#3ccc3c" stroke-width="1" />
<line x1="387.4" y1="281.46" x2="389" y2="281.46" stroke="#3ccc3c" stroke-width="1" />
<line x1="387.4" y1="276.58" x2="389" y2="276.58" stroke="#3ccc3c" stroke-width="1" />
<line x1="386" y1="271.7" x2="389" y2="271.7" stroke="#3ccc3c" stroke-width="1" />
<text transform="translate(383.8,274.8) scale(0.87,1)" font-size="13.2" text-anchor="end" fill="#000">1.25</text>
<line x1="387.4" y1="266.82" x2="389" y2="266.82" stroke="#3ccc3c" stroke-width="1" />
<line x1="387.4" y1="261.94" x2="389" y2="261.94" stroke="#3ccc3c" stroke-width="1" />
<line x1="387.4" y1="257.06" x2="389" y2="257.06" stroke="#3ccc3c" stroke-width="1" />
<line x1="387.4" y1="252.18" x2="389" y2="252.18" stroke="#3ccc3c" stroke-width="1" />
<line x1="386" y1="247.3" x2="389" y2="247.3" stroke="#3ccc3c" stroke-width="1" />
<text transform="translate(383.8,250.4) scale(0.87,1)" font-size="13.2" text-anchor="end" fill="#000">1.30</text>
<line x1="613.3" y1="247.3" x2="616.3" y2="247.3" stroke="#555" stroke-width="1" />
<text transform="translate(618.9,250.4) scale(0.87,1)" font-size="13.2" text-anchor="start" fill="#0f800f">1.60</text>
<line x1="613.3" y1="254.89" x2="614.9" y2="254.89" stroke="#555" stroke-width="1" />
<line x1="613.3" y1="262.48" x2="614.9" y2="262.48" stroke="#555" stroke-width="1" />
<line x1="613.3" y1="270.07" x2="614.9" y2="270.07" stroke="#555" stroke-width="1" />
<line x1="613.3" y1="277.66" x2="614.9" y2="277.66" stroke="#555" stroke-width="1" />
<line x1="613.3" y1="285.26" x2="616.3" y2="285.26" stroke="#555" stroke-width="1" />
<text transform="translate(618.9,288.36) scale(0.87,1)" font-size="13.2" text-anchor="start" fill="#0f800f">1.58</text>
<line x1="613.3" y1="292.85" x2="614.9" y2="292.85" stroke="#555" stroke-width="1" />
<line x1="613.3" y1="300.44" x2="614.9" y2="300.44" stroke="#555" stroke-width="1" />
<line x1="613.3" y1="308.03" x2="614.9" y2="308.03" stroke="#555" stroke-width="1" />
<line x1="613.3" y1="315.62" x2="614.9" y2="315.62" stroke="#555" stroke-width="1" />
<line x1="613.3" y1="323.21" x2="616.3" y2="323.21" stroke="#555" stroke-width="1" />
<text transform="translate(618.9,326.31) scale(0.87,1)" font-size="13.2" text-anchor="start" fill="#0f800f">1.56</text>
<line x1="613.3" y1="330.8" x2="614.9" y2="330.8" stroke="#555" stroke-width="1" />
<line x1="613.3" y1="338.39" x2="614.9" y2="338.39" stroke="#555" stroke-width="1" />
<line x1="613.3" y1="345.98" x2="614.9" y2="345.98" stroke="#555" stroke-width="1" />
<line x1="613.3" y1="353.58" x2="614.9" y2="353.58" stroke="#555" stroke-width="1" />
<line x1="613.3" y1="361.17" x2="616.3" y2="361.17" stroke="#555" stroke-width="1" />
<text transform="translate(618.9,364.27) scale(0.87,1)" font-size="13.2" text-anchor="start" fill="#0f800f">1.54</text>
<line x1="613.3" y1="368.76" x2="614.9" y2="368.76" stroke="#555" stroke-width="1" />
<line x1="613.3" y1="376.35" x2="614.9" y2="376.35" stroke="#555" stroke-width="1" />
<line x1="613.3" y1="383.94" x2="614.9" y2="383.94" stroke="#555" stroke-width="1" />
<line x1="613.3" y1="391.53" x2="614.9" y2="391.53" stroke="#555" stroke-width="1" />
<line x1="613.3" y1="399.12" x2="616.3" y2="399.12" stroke="#555" stroke-width="1" />
<text transform="translate(618.9,402.22) scale(0.87,1)" font-size="13.2" text-anchor="start" fill="#0f800f">1.52</text>
<line x1="613.3" y1="406.71" x2="614.9" y2="406.71" stroke="#555" stroke-width="1" />
<line x1="613.3" y1="414.3" x2="614.9" y2="414.3" stroke="#555" stroke-width="1" />
<line x1="389" y1="418.1" x2="389" y2="421.1" stroke="#555" stroke-width="1" />
<text transform="translate(389,432.4) scale(0.87,1)" font-size="13.2" text-anchor="middle" fill="#000">0</text>
<line x1="396.18" y1="418.1" x2="396.18" y2="419.7" stroke="#555" stroke-width="1" />
<line x1="403.36" y1="418.1" x2="403.36" y2="419.7" stroke="#555" stroke-width="1" />
<line x1="410.53" y1="418.1" x2="410.53" y2="419.7" stroke="#555" stroke-width="1" />
<line x1="417.71" y1="418.1" x2="417.71" y2="419.7" stroke="#555" stroke-width="1" />
<line x1="424.89" y1="418.1" x2="424.89" y2="421.1" stroke="#555" stroke-width="1" />
<text transform="translate(424.89,432.4) scale(0.87,1)" font-size="13.2" text-anchor="middle" fill="#000">20</text>
<line x1="432.07" y1="418.1" x2="432.07" y2="419.7" stroke="#555" stroke-width="1" />
<line x1="439.24" y1="418.1" x2="439.24" y2="419.7" stroke="#555" stroke-width="1" />
<line x1="446.42" y1="418.1" x2="446.42" y2="419.7" stroke="#555" stroke-width="1" />
<line x1="453.6" y1="418.1" x2="453.6" y2="419.7" stroke="#555" stroke-width="1" />
<line x1="460.78" y1="418.1" x2="460.78" y2="421.1" stroke="#555" stroke-width="1" />
<text transform="translate(460.78,432.4) scale(0.87,1)" font-size="13.2" text-anchor="middle" fill="#000">40</text>
<line x1="467.95" y1="418.1" x2="467.95" y2="419.7" stroke="#555" stroke-width="1" />
<line x1="475.13" y1="418.1" x2="475.13" y2="419.7" stroke="#555" stroke-width="1" />
<line x1="482.31" y1="418.1" x2="482.31" y2="419.7" stroke="#555" stroke-width="1" />
<line x1="489.49" y1="418.1" x2="489.49" y2="419.7" stroke="#555" stroke-width="1" />
<line x1="496.66" y1="418.1" x2="496.66" y2="421.1" stroke="#555" stroke-width="1" />
<text transform="translate(496.66,432.4) scale(0.87,1)" font-size="13.2" text-anchor="middle" fill="#000">60</text>
<line x1="503.84" y1="418.1" x2="503.84" y2="419.7" stroke="#555" stroke-width="1" />
<line x1="511.02" y1="418.1" x2="511.02" y2="419.7" stroke="#555" stroke-width="1" />
<line x1="518.2" y1="418.1" x2="518.2" y2="419.7" stroke="#555" stroke-width="1" />
<line x1="525.37" y1="418.1" x2="525.37" y2="419.7" stroke="#555" stroke-width="1" />
<line x1="532.55" y1="418.1" x2="532.55" y2="421.1" stroke="#555" stroke-width="1" />
<text transform="translate(532.55,432.4) scale(0.87,1)" font-size="13.2" text-anchor="middle" fill="#000">80</text>
<line x1="539.73" y1="418.1" x2="539.73" y2="419.7" stroke="#555" stroke-width="1" />
<line x1="546.91" y1="418.1" x2="546.91" y2="419.7" stroke="#555" stroke-width="1" />
<line x1="554.08" y1="418.1" x2="554.08" y2="419.7" stroke="#555" stroke-width="1" />
<line x1="561.26" y1="418.1" x2="561.26" y2="419.7" stroke="#555" stroke-width="1" />
<line x1="568.44" y1="418.1" x2="568.44" y2="421.1" stroke="#555" stroke-width="1" />
<text transform="translate(568.44,432.4) scale(0.87,1)" font-size="13.2" text-anchor="middle" fill="#000">100</text>
<line x1="575.62" y1="418.1" x2="575.62" y2="419.7" stroke="#555" stroke-width="1" />
<line x1="582.8" y1="418.1" x2="582.8" y2="419.7" stroke="#555" stroke-width="1" />
<line x1="589.97" y1="418.1" x2="589.97" y2="419.7" stroke="#555" stroke-width="1" />
<line x1="597.15" y1="418.1" x2="597.15" y2="419.7" stroke="#555" stroke-width="1" />
<line x1="604.33" y1="418.1" x2="604.33" y2="421.1" stroke="#555" stroke-width="1" />
<text transform="translate(604.33,432.4) scale(0.87,1)" font-size="13.2" text-anchor="middle" fill="#000">120</text>
<line x1="611.51" y1="418.1" x2="611.51" y2="419.7" stroke="#555" stroke-width="1" />
<text x="501.5" y="455.5" font-size="14" text-anchor="middle" fill="#000" >Time (min)</text>
<text transform="translate(348.7,342.2) rotate(-90)" font-size="14.4" text-anchor="middle" fill="#0f800f">Thickness (normalized)</text>
<text transform="translate(648.1,341.4) rotate(90)" font-size="14" text-anchor="middle">Refractive index</text>
<text x="3.4" y="244.1" font-size="18" font-weight="bold">c</text>
<text x="343.5" y="245" font-size="18" font-weight="bold">d</text>
<text x="58.5" y="267.1" font-size="16.8" text-anchor="start" fill="#000" >DNA film</text>
<text x="57" y="412.8" font-size="16.8" text-anchor="start" fill="#000" >44 nm</text>
<text x="394.3" y="268.1" font-size="16.8" text-anchor="start" fill="#000" >Riboflavin:DNA film</text>
<text x="395.8" y="410.7" font-size="16.8" text-anchor="start" fill="#000" >46 nm</text>
<path d="M52.7,327.8 L65.8,329.5 L72.6,327.1 L82.2,328.8 L90.4,332.2 L99.3,329.2 L108.2,334.2 L117.1,343.9 L126,347.8 L135.6,345.6 L152.7,362.7 L162.3,366.3 L171.2,376.2 L180.1,367.3 L189,354.1 L197.2,354.2 L206.6,350.9 L224.6,337.3 L233.9,327.9 L242.6,325.5 L251.2,323.6 L260.5,321.9 L276.4,321.7" fill="none" stroke="#000" stroke-width="2.0" stroke-linejoin="round" />
<path d="M52.7,315.3 L64.4,321.2 L67.1,326 L71.2,337.7 L81.5,345.2 L91.1,356.2 L102,362.3 L113.7,368.6 L126,374.8 L138.4,380.3 L154.8,383 L161.2,385.1 L179.3,387.2 L188.8,390.1 L197.3,388.7 L233.4,389.3 L245.4,385.9 L250.4,385.1 L263.1,379.1 L276.4,359.6" fill="none" stroke="#999" stroke-width="1.8" stroke-linejoin="round" stroke-dasharray="2.6,1.7"/>
<line x1="108.9" y1="335.8" x2="173" y2="335.8" stroke="#000" stroke-width="1.8" />
<path d="M180.1,335.8 L171.9,333 L171.9,338.6 Z" fill="#000"/>
<line x1="218" y1="375.8" x2="264.9" y2="375.8" stroke="#999" stroke-width="1.8" />
<path d="M210.2,375.8 L218.8,372.9 L218.8,378.7 Z" fill="#999"/>
<path d="M389.1,311.1 L396,310.4 L401.4,309 L408.3,299.5 L417.9,295.3 L426.1,293.3 L435.7,287.1 L443.9,287.8 L449.4,291.2 L462.4,306.3 L472,300.6 L479.6,308.8 L489.9,301.5 L497.4,302.2 L507.7,315.9 L515.9,304.9 L524.8,304.2 L542.6,294 L552.2,291 L560.6,291.7 L569.2,284.5 L578.8,277.6 L585.1,277 L596.9,279.2 L612.8,283.4" fill="none" stroke="#178a17" stroke-width="2.0" stroke-linejoin="round" stroke-dasharray="2.3,1.2"/>
<path d="M389.1,311.1 L401.4,312.7 L404.9,320.3 L412.4,334.7 L420.6,346.3 L428.8,358.6 L435.8,371.3 L446.7,375 L462.5,377.5 L470,382 L488.3,388 L498.3,389.2 L506.7,388 L516.7,390.5 L542.8,391 L555,390.2 L579.4,388 L590,384.1 L600.7,377.3 L612.8,364.4" fill="none" stroke="#178a17" stroke-width="1.9" stroke-linejoin="round" stroke-dasharray="1.4,1.1"/>
<line x1="447.3" y1="290.4" x2="510" y2="290.4" stroke="#178a17" stroke-width="1.8" />
<path d="M517.3,290.4 L508.4,287.9 L508.4,292.9 Z" fill="#178a17"/>
<line x1="537" y1="376.1" x2="600.7" y2="376.1" stroke="#178a17" stroke-width="1.8" />
<path d="M529.4,376.1 L538,373.1 L538,379.1 Z" fill="#178a17"/>
</svg>
</body></html>
